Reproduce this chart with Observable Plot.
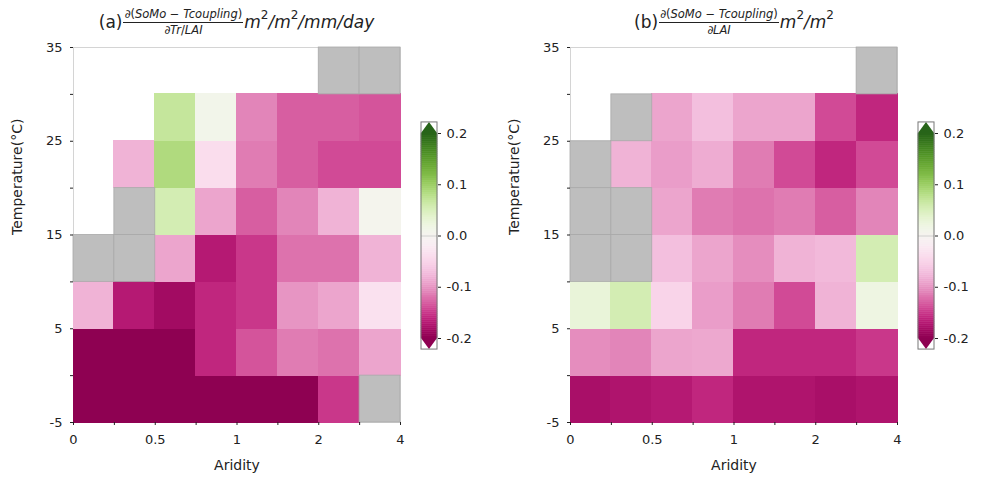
<!DOCTYPE html>
<html><head><meta charset="utf-8">
<script src="https://cdn.jsdelivr.net/npm/d3@7"></script>
<script src="https://cdn.jsdelivr.net/npm/@observablehq/plot@0.6"></script>
<style>
body{margin:0;background:#fff;font-family:"DejaVu Sans",sans-serif;}
#wrap{position:relative;width:985px;height:488px;overflow:hidden;}
.abs{position:absolute;top:0;}
.title{position:absolute;top:5px;height:34px;display:flex;justify-content:center;align-items:center;font-size:17px;color:#222;white-space:nowrap;}
.frac{display:inline-flex;flex-direction:column;align-items:center;font-size:11.5px;margin:0 1px;line-height:1.1;}
.frac .num{border-bottom:1px solid #222;padding:0 1px 1px 1px;}
.frac .den{padding-top:1px;}
.title i{font-style:italic;}
.title sup{font-size:12px;position:relative;top:-7px;vertical-align:baseline;line-height:0;}
</style>
</head><body>
<div id="wrap">
  <div class="title" style="left:73px;width:327px;">(a)<span class="frac"><span class="num">∂(<i>SoMo</i> − <i>Tcoupling</i>)</span><span class="den">∂<i>Tr</i>/<i>LAI</i></span></span><i>m</i><sup>2</sup><i>/m</i><sup>2</sup><i>/mm/day</i></div>
  <div class="title" style="left:570px;width:328px;">(b)<span class="frac"><span class="num">∂(<i>SoMo</i> − <i>Tcoupling</i>)</span><span class="den">∂<i>LAI</i></span></span><i>m</i><sup>2</sup><i>/m</i><sup>2</sup></div>
</div>
<script>
// Aridity bin edges (x) and temperature bin edges (y)
const aridityEdges = [0, 0.25, 0.5, 0.75, 1, 1.5, 2, 3, 4];
const aridityTickLabels = ["0", "0.5", "1", "2", "4"];
const tempEdges = [-5, 0, 5, 10, 15, 20, 25, 30, 35];
const tempTickLabels = ["-5", "5", "15", "25", "35"];
const colorTicks = [-0.2, -0.1, 0.0, 0.1, 0.2];

// Values per temperature row (bottom row first: -5..0, 0..5, ...), 8 aridity bins each.
// null = no data (white), NaN = masked (grey)
const panelA = [
  [-0.21, -0.21, -0.21, -0.21, -0.21, -0.21, -0.15, NaN],
  [-0.21, -0.21, -0.21, -0.16, -0.135, -0.115, -0.12, -0.09],
  [-0.08, -0.17, -0.185, -0.16, -0.15, -0.10, -0.09, -0.035],
  [NaN, NaN, -0.09, -0.17, -0.15, -0.12, -0.12, -0.08],
  [null, NaN, 0.055, -0.09, -0.13, -0.11, -0.08, 0.005],
  [null, -0.08, 0.085, -0.04, -0.115, -0.13, -0.14, -0.14],
  [null, null, 0.068, 0.01, -0.11, -0.13, -0.13, -0.135],
  [null, null, null, null, null, null, NaN, NaN]
];
const panelB = [
  [-0.18, -0.175, -0.17, -0.16, -0.175, -0.175, -0.18, -0.175],
  [-0.105, -0.11, -0.09, -0.088, -0.16, -0.16, -0.16, -0.15],
  [0.028, 0.055, -0.05, -0.095, -0.115, -0.14, -0.08, 0.02],
  [NaN, NaN, -0.07, -0.09, -0.105, -0.08, -0.075, 0.055],
  [NaN, NaN, -0.09, -0.115, -0.12, -0.115, -0.13, -0.11],
  [NaN, -0.08, -0.095, -0.085, -0.115, -0.14, -0.16, -0.14],
  [null, NaN, -0.09, -0.07, -0.09, -0.09, -0.14, -0.16],
  [null, null, null, null, null, null, null, NaN]
];

const colorOpts = {type: "linear", scheme: "piyg", domain: [-0.2, 0.2], clamp: true};
const wrap = document.getElementById("wrap");

function toCells(mat) {
  const out = [];
  mat.forEach((row, r) => row.forEach((v, c) => {
    if (v === null) return;
    out.push({i: c, t0: tempEdges[r], t1: tempEdges[r + 1], v, masked: Number.isNaN(v)});
  }));
  return out;
}

function panel(mat, left) {
  const cells = toCells(mat);
  const valid = cells.filter(d => !d.masked);
  const masked = cells.filter(d => d.masked);
  const p = Plot.plot({
    width: 420, height: 488,
    marginLeft: 73, marginRight: 20, marginTop: 47, marginBottom: 66,
    style: {fontFamily: "DejaVu Sans", fontSize: "13px", color: "#222", background: "transparent"},
    x: {domain: [0, aridityEdges.length - 1]},
    y: {domain: [tempEdges[0], tempEdges[tempEdges.length - 1]]},
    color: colorOpts,
    marks: [
      Plot.frame({stroke: "#d4d4d4"}),
      Plot.rect(valid, {x1: "i", x2: d => d.i + 1, y1: "t0", y2: "t1", fill: "v", stroke: "v", strokeWidth: 1, shapeRendering: "crispEdges"}),
      Plot.rect(masked, {x1: "i", x2: d => d.i + 1, y1: "t0", y2: "t1", fill: "#bebebe", stroke: "#a9a9a9", strokeWidth: 0.8}),
      Plot.axisX({ticks: d3.range(aridityEdges.length), tickSize: 3, tickPadding: 9,
        tickFormat: i => (i % 2 === 0 ? aridityTickLabels[i / 2] : ""), label: null}),
      Plot.axisY({ticks: tempEdges, tickSize: 3, tickPadding: 8,
        tickFormat: d => { const k = tempTickLabels.indexOf(String(d)); return k >= 0 ? tempTickLabels[k] : ""; }, label: null}),
      Plot.text(["Temperature(°C)"], {frameAnchor: "left", dx: -56, rotate: -90, fontSize: 14, fill: "#222"}),
      Plot.text(["Aridity"], {frameAnchor: "bottom", dy: 47, fontSize: 14, fill: "#222"})
    ]
  });
  p.classList.add("abs");
  p.style.left = left + "px";
  wrap.appendChild(p);
}

function colorbar(left) {
  const [lo, hi] = colorOpts.domain;
  const n = 100, step = (hi - lo) / n;
  const ext = (hi - lo) * 0.054;
  const strips = d3.range(n).map(k => ({a: lo + k * step, b: lo + (k + 1) * step, v: lo + (k + 0.5) * step}));
  const tri = [0, 0.5, 1];
  const p = Plot.plot({
    width: 70, height: 488,
    marginLeft: 0, marginRight: 54, marginTop: 133, marginBottom: 150,
    style: {fontFamily: "DejaVu Sans", fontSize: "13px", color: "#222", background: "transparent", overflow: "visible"},
    x: {domain: [0, 1], axis: null},
    y: {domain: [lo, hi]},
    color: colorOpts,
    marks: [
      Plot.rect(strips, {x1: 0, x2: 1, y1: "a", y2: "b", fill: "v", stroke: "v", strokeWidth: 0.5}),
      Plot.areaY(tri, {x: d => d, y1: hi, y2: d => hi + ext * (1 - Math.abs(2 * d - 1)), fill: d3.interpolatePiYG(1)}),
      Plot.areaY(tri, {x: d => d, y1: lo, y2: d => lo - ext * (1 - Math.abs(2 * d - 1)), fill: d3.interpolatePiYG(0)}),
      Plot.ruleY([0], {x1: 0, x2: 1, stroke: "#bbb", strokeWidth: 0.6}),
      Plot.rect([0], {x1: 0, x2: 1, y1: lo - ext, y2: hi + ext, fill: "none", stroke: "#777", strokeWidth: 1}),
      Plot.axisY({anchor: "right", ticks: colorTicks, tickSize: 3, tickPadding: 6,
        tickFormat: d => d.toFixed(1), label: null})
    ]
  });
  p.classList.add("abs");
  p.style.left = left + "px";
  wrap.appendChild(p);
}

panel(panelA, 0);
panel(panelB, 497);
colorbar(421);
colorbar(918);
</script>
</body></html>
